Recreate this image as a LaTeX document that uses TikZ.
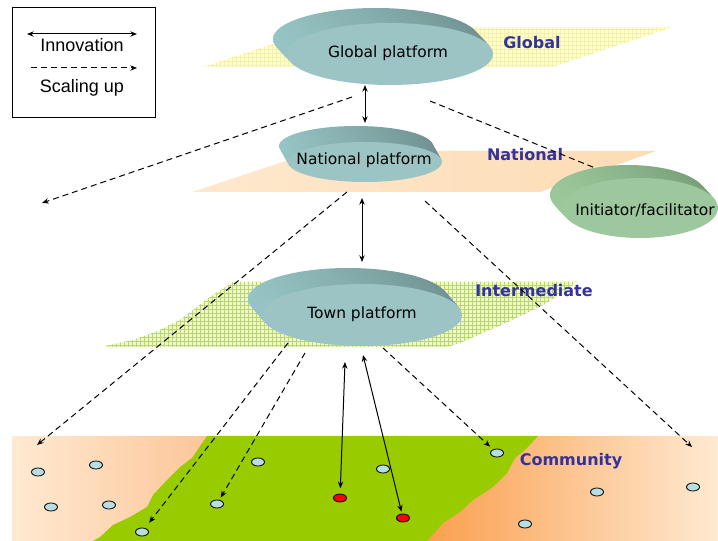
\documentclass[tikz,border=0pt]{standalone}
\usepackage{fontspec}
\setmainfont{DejaVu Sans}
\newfontfamily\legendfont{Liberation Sans}
\usetikzlibrary{arrows.meta,calc,patterns,shapes.geometric}

\definecolor{discface}{RGB}{157,196,196}
\definecolor{discrim}{RGB}{112,145,145}
\definecolor{discmid}{RGB}{126,164,164}
\definecolor{disclight}{RGB}{150,196,196}
\definecolor{greenface}{RGB}{157,199,157}
\definecolor{greenrim}{RGB}{118,156,118}
\definecolor{greenmid}{RGB}{130,172,130}
\definecolor{greenlight}{RGB}{155,200,155}
\definecolor{levelblue}{RGB}{51,51,153}
\definecolor{villageblue}{RGB}{184,222,228}
\definecolor{commgreen}{RGB}{153,204,0}
\definecolor{peach}{RGB}{255,234,210}
\definecolor{peachdark}{RGB}{252,196,150}
\definecolor{orangedark}{RGB}{250,158,76}
\definecolor{natlight}{RGB}{254,232,206}
\definecolor{natorange}{RGB}{252,202,142}
\definecolor{natright}{RGB}{253,220,180}
\definecolor{globalyellow}{RGB}{255,255,208}
\definecolor{globalgrid}{RGB}{244,240,165}
\definecolor{townlight}{RGB}{240,248,205}
\definecolor{towngrid}{RGB}{185,220,80}

\begin{document}
\begin{tikzpicture}[x=0.75pt,y=0.75pt,yscale=-1,xscale=1,
  platlabel/.style={inner sep=0.75pt, font=\fontsize{11.6}{14}\selectfont},
  levellabel/.style={inner sep=0.75pt, text=levelblue, font=\bfseries\fontsize{12}{14}\selectfont},
  legendlabel/.style={inner sep=0.75pt, font=\legendfont\fontsize{13.5}{16}\selectfont},
  village/.style={ellipse, draw, line width=0.6pt, fill=villageblue, minimum width=9.75pt, minimum height=6pt, inner sep=0pt},
  leader/.style={village, fill=red},
  innov/.style={line width=0.75pt, {Stealth[length=5pt,width=4pt]}-{Stealth[length=5pt,width=4pt]}},
  scaleup/.style={line width=0.75pt, dash pattern={on 4.5pt off 3pt}, -{Stealth[length=5pt,width=4pt]}}
]
\useasboundingbox (0,0) rectangle (718,541);

%Community level
\shade[left color=peach, right color=peachdark] (12,437) rectangle (216,541);
\shade[left color=orangedark, right color=peach] (420,437) rectangle (718,541);
\fill[commgreen] (207,436) -- (538,436) -- (527,448) -- (515,458) -- (507,473) -- (493,487) -- (473,500) -- (460,512) -- (443,523) -- (427,541) -- (93,541) -- (100,537) -- (113,525) -- (130,517) -- (147,507) -- (153,495) -- (167,480) -- (180,467) -- (192,458) -- cycle;

%Planes
\fill[globalyellow, postaction={pattern=grid, pattern color=globalgrid}] (203,67) -- (552,67) -- (673,27) -- (324,27) -- cycle;
\shade[left color=natlight, middle color=natorange, right color=natright] (192,192) -- (540,192) -- (656,151) -- (316,151) -- cycle;
\fill[townlight, postaction={pattern=grid, pattern color=towngrid}] (105,346) -- (133,340) -- (160,330) -- (180,320) -- (197,307) -- (210,297) -- (233,282) -- (577,282) -- (560,294) -- (547,303) -- (527,313) -- (497,327) -- (478,335) -- (460,343) -- (447,347) -- (105,347) -- cycle;

%Platform discs
\foreach \t in {0,0.1,...,1}
  \shade[left color=disclight, middle color=discmid, right color=discrim] ($(376,39)!\t!(390,54)$) ellipse [x radius=103, y radius=31];
\fill[discface] (390,54) ellipse [x radius=103, y radius=31];
\foreach \t in {0,0.1,...,1}
  \shade[left color=disclight, middle color=discmid, right color=discrim] ($(356,146)!\t!(365,162)$) ellipse [x radius=77, y radius=20];
\fill[discface] (365,162) ellipse [x radius=77, y radius=20];
\foreach \t in {0,0.1,...,1}
  \shade[left color=disclight, middle color=discmid, right color=discrim] ($(348,299)!\t!(362,315)$) ellipse [x radius=100, y radius=31];
\fill[discface] (362,315) ellipse [x radius=100, y radius=31];

\node[platlabel] (gp) at (388,53) {Global platform};
\node[platlabel] (np) at (364,160) {National platform};
\node[platlabel] (tp) at (362,314) {Town platform};

%Level names
\node[levellabel] (lv-global) at (532,43) {Global};
\node[levellabel] (lv-national) at (525,155) {National};
\node[levellabel] (lv-inter) at (534,291) {Intermediate};
\node[levellabel] (lv-comm) at (571,461) {Community};

%Villages
\node[village] (v1) at (38,472) {};
\node[village] (v2) at (96,465) {};
\node[village] (v3) at (51,507) {};
\node[village] (v4) at (109,505) {};
\node[village] (v5) at (142,532) {};
\node[village] (v6) at (258,462) {};
\node[village] (v7) at (217,504) {};
\node[village] (v8) at (383,469) {};
\node[village] (v9) at (497,453) {};
\node[village] (v10) at (597,492) {};
\node[village] (v11) at (693,487) {};
\node[village] (v12) at (525,524) {};
\node[leader] (r1) at (340,498) {};
\node[leader] (r2) at (403,518) {};

%Connector ends
\coordinate (gp-down) at (365,85);
\coordinate (np-up) at (365,123);
\coordinate (gp-left) at (352,97);
\coordinate (gp-right) at (430,101);
\coordinate (np-left) at (347,192);
\coordinate (np-right) at (425,201);
\coordinate (np-down) at (362,198);
\coordinate (tp-up) at (362,262);
\coordinate (tp-a) at (288,343);
\coordinate (tp-b) at (305,353);
\coordinate (tp-c) at (383,348);
\coordinate (tp-d) at (345,362);
\coordinate (tp-e) at (363,355);
\coordinate (far-left) at (42,203);
\coordinate (comm-left) at (37,445);
\coordinate (comm-right) at (692,447);
\coordinate (ini-end) at (605,172);

\draw[innov] (gp-down) -- (np-up);
\draw[innov] (np-down) -- (tp-up);
\draw[scaleup] (gp-left) -- (far-left);
\draw[scaleup, -] (gp-right) -- (ini-end);
\draw[scaleup] (np-left) -- (comm-left);
\draw[scaleup] (np-right) -- (comm-right);
\draw[scaleup, shorten >=5pt] (tp-a) -- (v5);
\draw[scaleup, shorten >=2pt] (tp-b) -- (v7);
\draw[scaleup, shorten >=3pt] (tp-c) -- (v9);
\draw[innov, shorten >=4pt] (tp-d) -- (r1);
\draw[innov, shorten >=1.5pt] (tp-e) -- (r2);

%Initiator disc
\foreach \t in {0,0.1,...,1}
  \shade[left color=greenlight, middle color=greenmid, right color=greenrim] ($(628,195)!\t!(640,208)$) ellipse [x radius=78, y radius=30];
\fill[greenface] (640,208) ellipse [x radius=78, y radius=30];
\node[platlabel] (ini) at (645,210) {Initiator/facilitator};

%Legend
\draw[line width=0.75pt] (12,8) rectangle (155,118);
\coordinate (inn-l) at (27,34);
\coordinate (inn-r) at (137,34);
\draw[innov] (inn-l) -- (inn-r);
\node[legendlabel] (inn-text) at (82,45) {Innovation};
\coordinate (sc-l) at (31,68);
\coordinate (sc-r) at (137,68);
\draw[scaleup] (sc-l) -- (sc-r);
\node[legendlabel] (sc-text) at (82,88) {Scaling up};
\end{tikzpicture}
\end{document}
